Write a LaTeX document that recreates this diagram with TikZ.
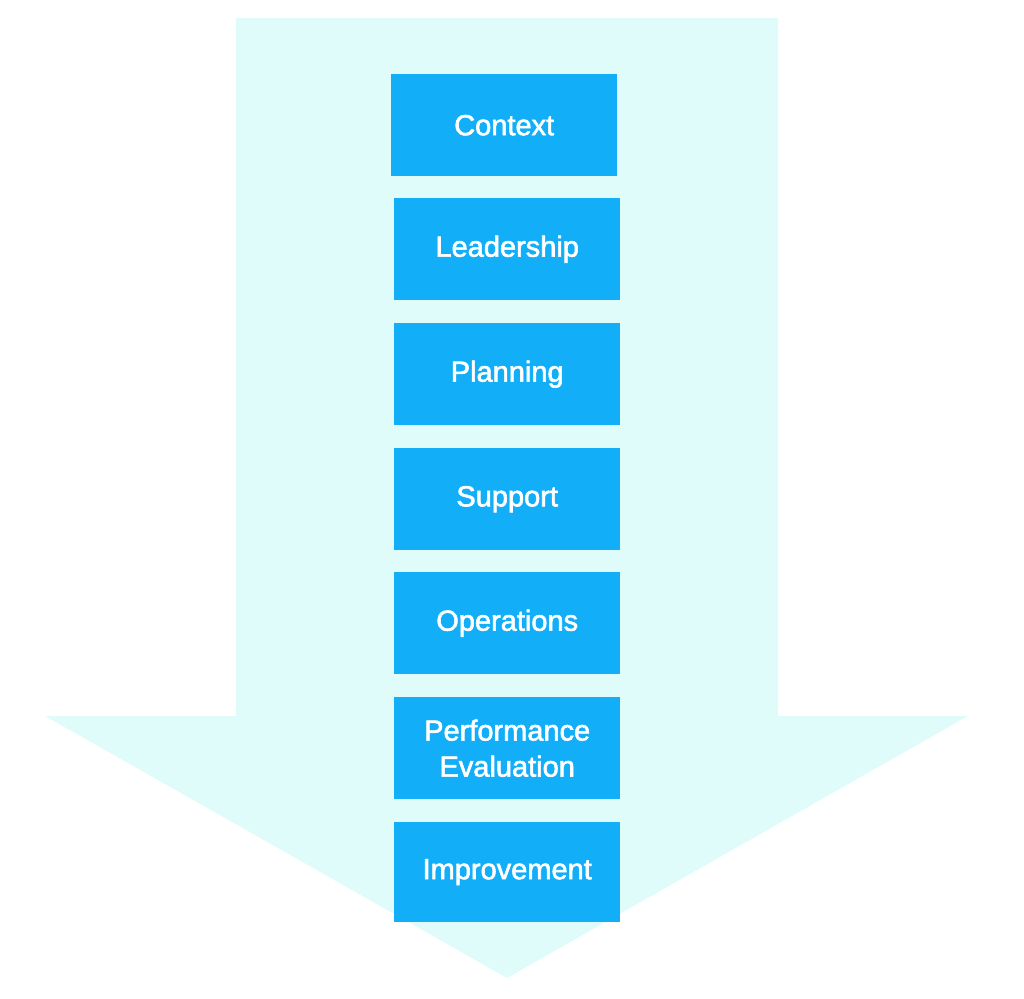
\documentclass[tikz,border=0pt]{standalone}
\usepackage{fontspec}
\setmainfont{Liberation Sans}
\newfontfamily\boxfont{Liberation Sans}[FakeBold=2]
\definecolor{arrowfill}{HTML}{E0FCFA}
\definecolor{boxfill}{HTML}{12AEF8}
\tikzset{
  stepbox/.style={fill=boxfill, draw=none, minimum width=226pt, minimum height=102pt,
    inner sep=0pt, text=white, font=\boxfont\fontsize{29}{36}\selectfont, align=center, anchor=north west},
}
\begin{document}
\begin{tikzpicture}[x=1pt,y=-1pt]
\useasboundingbox (0,0) rectangle (1024,998);
\fill[arrowfill] (236,18) -- (778,18) -- (778,716) -- (968,716) -- (507,978) -- (45,716) -- (236,716) -- cycle;
\node[stepbox] (context) at (391,74) {Context};
\node[stepbox] (leadership) at (394,198) {Leadership};
\node[stepbox] (planning) at (394,323) {Planning};
\node[stepbox] (support) at (394,448) {Support};
\node[stepbox] (operations) at (394,572) {Operations};
\node[stepbox] (performance) at (394,697) {Performance\\Evaluation};
\node[stepbox, minimum height=100pt] (improvement) at (394,822) {Improvement};
\end{tikzpicture}
\end{document}
